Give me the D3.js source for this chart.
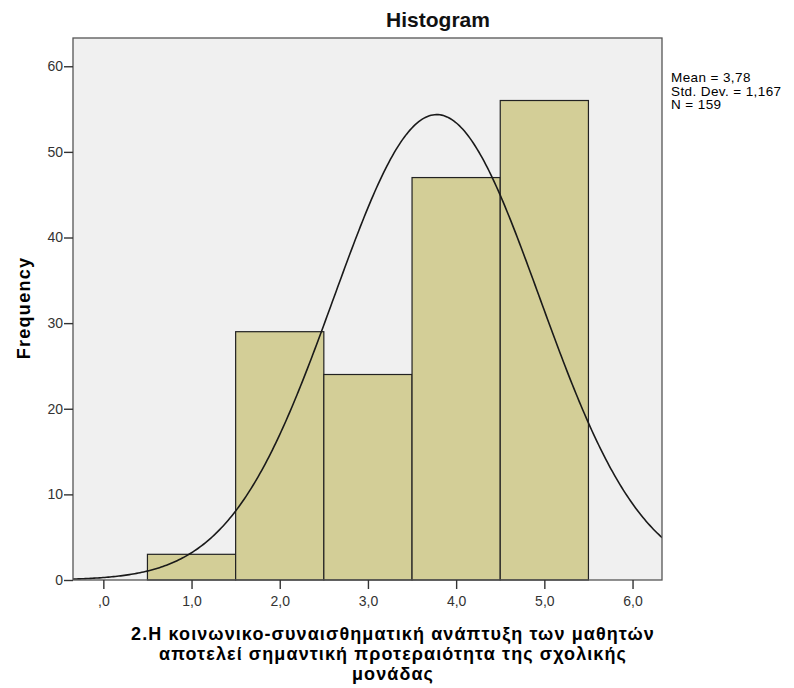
<!DOCTYPE html>
<html>
<head>
<meta charset="utf-8">
<script src="https://cdn.jsdelivr.net/npm/d3@7"></script>
<style>
  html, body { margin: 0; padding: 0; background: #fff; }
  svg { display: block; }
  text { font-family: "Liberation Sans", Arial, sans-serif; }
</style>
</head>
<body>
<svg id="chart" width="794" height="688"></svg>
<script>
// Histogram data: bin centres and frequencies
const binCenters = [1, 2, 3, 4, 5];
const frequencies = [3, 29, 24, 47, 56];
const binWidth = 1;
const xTicks = [0, 1, 2, 3, 4, 5, 6];
const xTickLabels = [",0", "1,0", "2,0", "3,0", "4,0", "5,0", "6,0"];
const yTicks = [0, 10, 20, 30, 40, 50, 60];
const statsLines = ["Mean = 3,78", "Std. Dev. = 1,167", "N = 159"];
const mean = 3.78, sd = 1.167, n = 159;
const titleText = "Histogram";
const yLabel = "Frequency";
const xLabelLines = [
  "2.Η κοινωνικο-συναισθηματική ανάπτυξη των μαθητών",
  "αποτελεί σημαντική προτεραιότητα της σχολικής",
  "μονάδας"
];

const svg = d3.select("#chart");
const plot = { left: 73, top: 38, right: 662, bottom: 580 };

const x = d3.scaleLinear().domain([-0.344, 6.334]).range([plot.left, plot.right]);
const y = d3.scaleLinear().domain([0, 63.3]).range([plot.bottom, plot.top]);

// plot background
svg.append("rect")
  .attr("x", plot.left).attr("y", plot.top)
  .attr("width", plot.right - plot.left).attr("height", plot.bottom - plot.top)
  .attr("fill", "#f0f0f0");

// clip for the curve
svg.append("clipPath").attr("id", "plotClip")
  .append("rect")
  .attr("x", plot.left).attr("y", plot.top)
  .attr("width", plot.right - plot.left).attr("height", plot.bottom - plot.top);

// bars
svg.append("g").selectAll("rect")
  .data(binCenters.map((c, i) => ({ c, f: frequencies[i] })))
  .join("rect")
  .attr("x", d => x(d.c - binWidth / 2))
  .attr("y", d => y(d.f))
  .attr("width", d => x(d.c + binWidth / 2) - x(d.c - binWidth / 2))
  .attr("height", d => y(0) - y(d.f))
  .attr("fill", "#d3ce97")
  .attr("stroke", "#222")
  .attr("stroke-width", 1.2);

// fitted normal curve scaled to counts
const curvePts = d3.range(x.domain()[0], x.domain()[1] + 0.01, 0.02).map(v => {
  const z = (v - mean) / sd;
  return [v, n * binWidth * Math.exp(-0.5 * z * z) / (sd * Math.sqrt(2 * Math.PI))];
});
svg.append("path")
  .datum(curvePts)
  .attr("clip-path", "url(#plotClip)")
  .attr("fill", "none")
  .attr("stroke", "#1a1a1a")
  .attr("stroke-width", 1.6)
  .attr("d", d3.line().x(d => x(d[0])).y(d => y(d[1])));

// frame
svg.append("rect")
  .attr("x", plot.left).attr("y", plot.top)
  .attr("width", plot.right - plot.left).attr("height", plot.bottom - plot.top)
  .attr("fill", "none").attr("stroke", "#555").attr("stroke-width", 1.3);

// axes
const xAxis = d3.axisBottom(x).tickValues(xTicks)
  .tickFormat((d, i) => xTickLabels[i]).tickSize(9).tickSizeOuter(0);
const gx = svg.append("g").attr("transform", `translate(0,${plot.bottom})`).call(xAxis);
gx.select(".domain").remove();
gx.selectAll(".tick line").attr("stroke", "#333").attr("stroke-width", 1.4);
gx.selectAll(".tick text").attr("y", 26).attr("dy", 0)
  .attr("font-size", 14).attr("fill", "#333")
  .attr("font-family", "'Liberation Sans', Arial, sans-serif");

const yAxis = d3.axisLeft(y).tickValues(yTicks).tickSize(9).tickSizeOuter(0);
const gy = svg.append("g").attr("transform", `translate(${plot.left},0)`).call(yAxis);
gy.select(".domain").remove();
gy.selectAll(".tick line").attr("stroke", "#333").attr("stroke-width", 1.4);
gy.selectAll(".tick text").attr("x", -10)
  .attr("font-size", 14).attr("fill", "#333")
  .attr("font-family", "'Liberation Sans', Arial, sans-serif");

// title
svg.append("text")
  .attr("x", 438).attr("y", 27)
  .attr("text-anchor", "middle")
  .attr("font-size", 21).attr("font-weight", "bold").attr("fill", "#111")
  .text(titleText);

// y label
svg.append("text")
  .attr("transform", `translate(30,${308}) rotate(-90)`)
  .attr("text-anchor", "middle")
  .attr("font-size", 18).attr("font-weight", "bold").attr("fill", "#000")
  .attr("letter-spacing", 1.3)
  .text(yLabel);

// x label
svg.append("g").selectAll("text")
  .data(xLabelLines)
  .join("text")
  .attr("x", 393).attr("y", (d, i) => 640 + i * 20)
  .attr("text-anchor", "middle")
  .attr("font-size", 18).attr("font-weight", "bold").attr("fill", "#000")
  .attr("letter-spacing", 1.1)
  .text(d => d);

// summary statistics
svg.append("g").selectAll("text")
  .data(statsLines)
  .join("text")
  .attr("x", 671).attr("y", (d, i) => 82 + i * 13.5)
  .attr("font-size", 13.5).attr("fill", "#000")
  .attr("letter-spacing", 0.4)
  .text(d => d);
</script>
</body>
</html>
